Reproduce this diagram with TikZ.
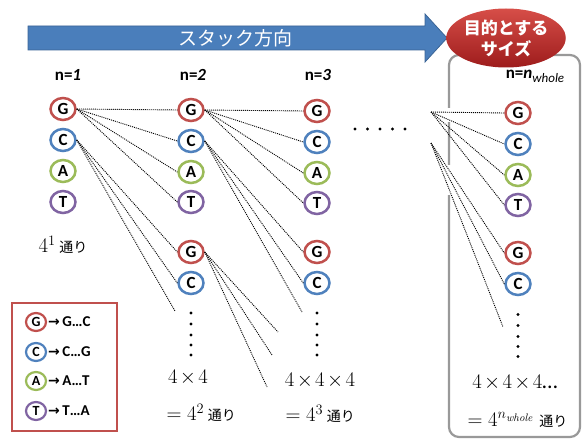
\documentclass[tikz,border=0pt]{standalone}
\usepackage[no-math]{fontspec}
\setmainfont{Carlito}
\newfontfamily\cjk{Noto Sans CJK JP}
\newfontfamily\symf{DejaVu Sans}
\usetikzlibrary{shapes.geometric}
\definecolor{cG}{HTML}{C0504D}
\definecolor{cC}{HTML}{4F81BD}
\definecolor{cA}{HTML}{9BBB59}
\definecolor{cT}{HTML}{8064A2}
\definecolor{arrowblue}{HTML}{4A7EBB}
\definecolor{arrowdark}{HTML}{3A6496}
\definecolor{boxgray}{HTML}{999999}
\newcommand{\tori}{{\cjk\fontsize{14}{14}\selectfont 通り}}
\newcommand{\tms}{\mskip2mu{\times}\mskip2mu}
\begin{document}
\begin{tikzpicture}[x=1pt,y=-1pt,
  nuc/.style={ellipse, draw, line width=2.5pt, minimum width=25pt, minimum height=22pt, inner sep=0pt, fill=white, font=\bfseries\fontsize{17}{17}\selectfont},
  nG/.style={nuc, draw=cG}, nC/.style={nuc, draw=cC}, nA/.style={nuc, draw=cA}, nT/.style={nuc, draw=cT},
  snuc/.style={ellipse, draw, line width=2.2pt, minimum width=20pt, minimum height=18pt, inner sep=0pt, fill=white, font=\bfseries\fontsize{14}{14}\selectfont},
  sG/.style={snuc, draw=cG}, sC/.style={snuc, draw=cC}, sA/.style={snuc, draw=cA}, sT/.style={snuc, draw=cT},
  dl/.style={line width=0.9pt, dash pattern=on 1pt off 1pt},
  lab/.style={font=\bfseries\fontsize{17}{17}\selectfont},
  big/.style={font=\fontsize{22}{22}\selectfont},
  legtxt/.style={anchor=west, inner sep=0pt, font=\bfseries\fontsize{15}{15}\selectfont},
  vdot/.style={fill=black}
]
\useasboundingbox (0,0) rectangle (583,441);

% gray frame of the target size
\draw[boxgray, line width=2.2pt, rounded corners=10pt] (449,55) rectangle (580,437);
\fill[white] (446,108) rectangle (452,122);
\fill[white] (446,165) rectangle (452,195);

% stacking direction arrow
\draw[fill=arrowblue, draw=arrowdark, line width=0.8pt] (28,26) -- (425,26) -- (425,14) -- (447,38) -- (425,62) -- (425,50) -- (28,50) -- cycle;
\node[text=white, font=\cjk\fontsize{19}{19}\selectfont] (dir) at (235,38) {スタック方向};

% target size ellipse
\node[ellipse, minimum width=96pt, minimum height=59pt, top color={rgb,255:red,214;green,78;blue,72}, bottom color={rgb,255:red,158;green,28;blue,28}, draw=none, text=white, align=center, inner sep=0pt, font=\cjk\bfseries\fontsize{17}{21}\selectfont] (goal) at (506,38) {目的とする\\サイズ};

% column labels
\node[lab] (n1) at (68,75) {n=\textit{1}};
\node[lab] (n2) at (193,75) {n=\textit{2}};
\node[lab] (n3) at (318,75) {n=\textit{3}};
\node[lab] (nw) at (535,76) {n=\textit{n}\raisebox{-4pt}{\mdseries\itshape\fontsize{13}{13}\selectfont whole}};

% column 1
\node[nG] (g1) at (63,109) {G};
\node[nC] (c1) at (63,140) {C};
\node[nA] (a1) at (63,171) {A};
\node[nT] (t1) at (63,202) {T};

% column 2
\node[nG] (g2) at (191,110) {G};
\node[nC] (c2) at (191,141) {C};
\node[nA] (a2) at (191,172) {A};
\node[nT] (t2) at (191,202) {T};
\node[nG] (gg2) at (191,252) {G};
\node[nC] (cc2) at (191,283) {C};

% column 3
\node[nG] (g3) at (317,111) {G};
\node[nC] (c3) at (317,142) {C};
\node[nA] (a3) at (317,173) {A};
\node[nT] (t3) at (317,203) {T};
\node[nG] (gg3) at (317,252) {G};
\node[nC] (cc3) at (317,283) {C};

% column n_whole
\node[nG] (g4) at (518,113) {G};
\node[nC] (c4) at (518,144) {C};
\node[nA] (a4) at (518,175) {A};
\node[nT] (t4) at (518,205) {T};
\node[nG] (gg4) at (518,253) {G};
\node[nC] (cc4) at (518,284) {C};

% free ends and branch points
\coordinate (e1) at (175,311);
\coordinate (e2a) at (278,332);
\coordinate (e2b) at (272,355);
\coordinate (e2c) at (267,387);
\coordinate (e3) at (302,312);
\coordinate (p1) at (431,112);
\coordinate (p2) at (431,143);
\coordinate (e4) at (503,327);

% dotted connectors
\foreach \t in {g2,c2,a2,t2} \draw[dl] (g1.east) -- (\t.west);
\foreach \t in {gg2,cc2} \draw[dl] (c1.east) -- (\t.west);
\draw[dl] (c1.east) -- (e1);
\foreach \t in {g3,c3,a3,t3} \draw[dl] (g2.east) -- (\t.west);
\foreach \t in {gg3,cc3} \draw[dl] (c2.east) -- (\t.west);
\draw[dl] (c2.east) -- (e3);
\foreach \t in {e2a,e2b,e2c} \draw[dl] (gg2.east) -- (\t);
\foreach \t in {g4,c4,a4,t4} \draw[dl] (p1) -- (\t.west);
\foreach \t in {gg4,cc4} \draw[dl] (p2) -- (\t.west);
\draw[dl] (p2) -- (e4);

% ellipsis dots
\foreach \x in {355,367.5,380,392.5,405} \fill[vdot] (\x,129) circle (1.6pt);
\foreach \y in {313,324,335,345,355} {
  \fill[vdot] (191,\y) circle (1.6pt);
  \fill[vdot] (317,\y) circle (1.6pt);
  \fill[vdot] (518,\y+1.5) circle (1.6pt);
}

% counts
\node[big] (k1) at (63,245) {$4^{1}$\,\tori};
\node[big] (k2a) at (188,378) {$4\tms4$};
\node[big, anchor=west] (k2b) at (163,413) {$=4^{2}$\,\tori};
\node[big] (k3a) at (320,381) {$4\tms4\tms4$};
\node[big, anchor=west] (k3b) at (282,414) {$=4^{3}$\,\tori};
\node[big] (k4a) at (515,383) {$4\tms4\tms4$\ldots};
\node[big, anchor=west] (k4b) at (464,420) {$=4^{n_{\mathit{whole}}}$\ \tori};

% legend
\node[draw=cG, line width=2pt, minimum width=105pt, minimum height=128pt, inner sep=0pt] (legend) at (64.5,367) {};
\node[sG] (lg) at (36,322) {G};
\node[sC] (lc) at (36,352) {C};
\node[sA] (la) at (36,381) {A};
\node[sT] (lt) at (36,411) {T};
\node[legtxt] (lgt) at (48,322) {{\symf\bfseries\fontsize{14}{14}\selectfont →}\,G…C};
\node[legtxt] (lct) at (48,352) {{\symf\bfseries\fontsize{14}{14}\selectfont →}\,C…G};
\node[legtxt] (lat) at (48,381) {{\symf\bfseries\fontsize{14}{14}\selectfont →}\,A…T};
\node[legtxt] (ltt) at (48,411) {{\symf\bfseries\fontsize{14}{14}\selectfont →}\,T…A};
\end{tikzpicture}
\end{document}
